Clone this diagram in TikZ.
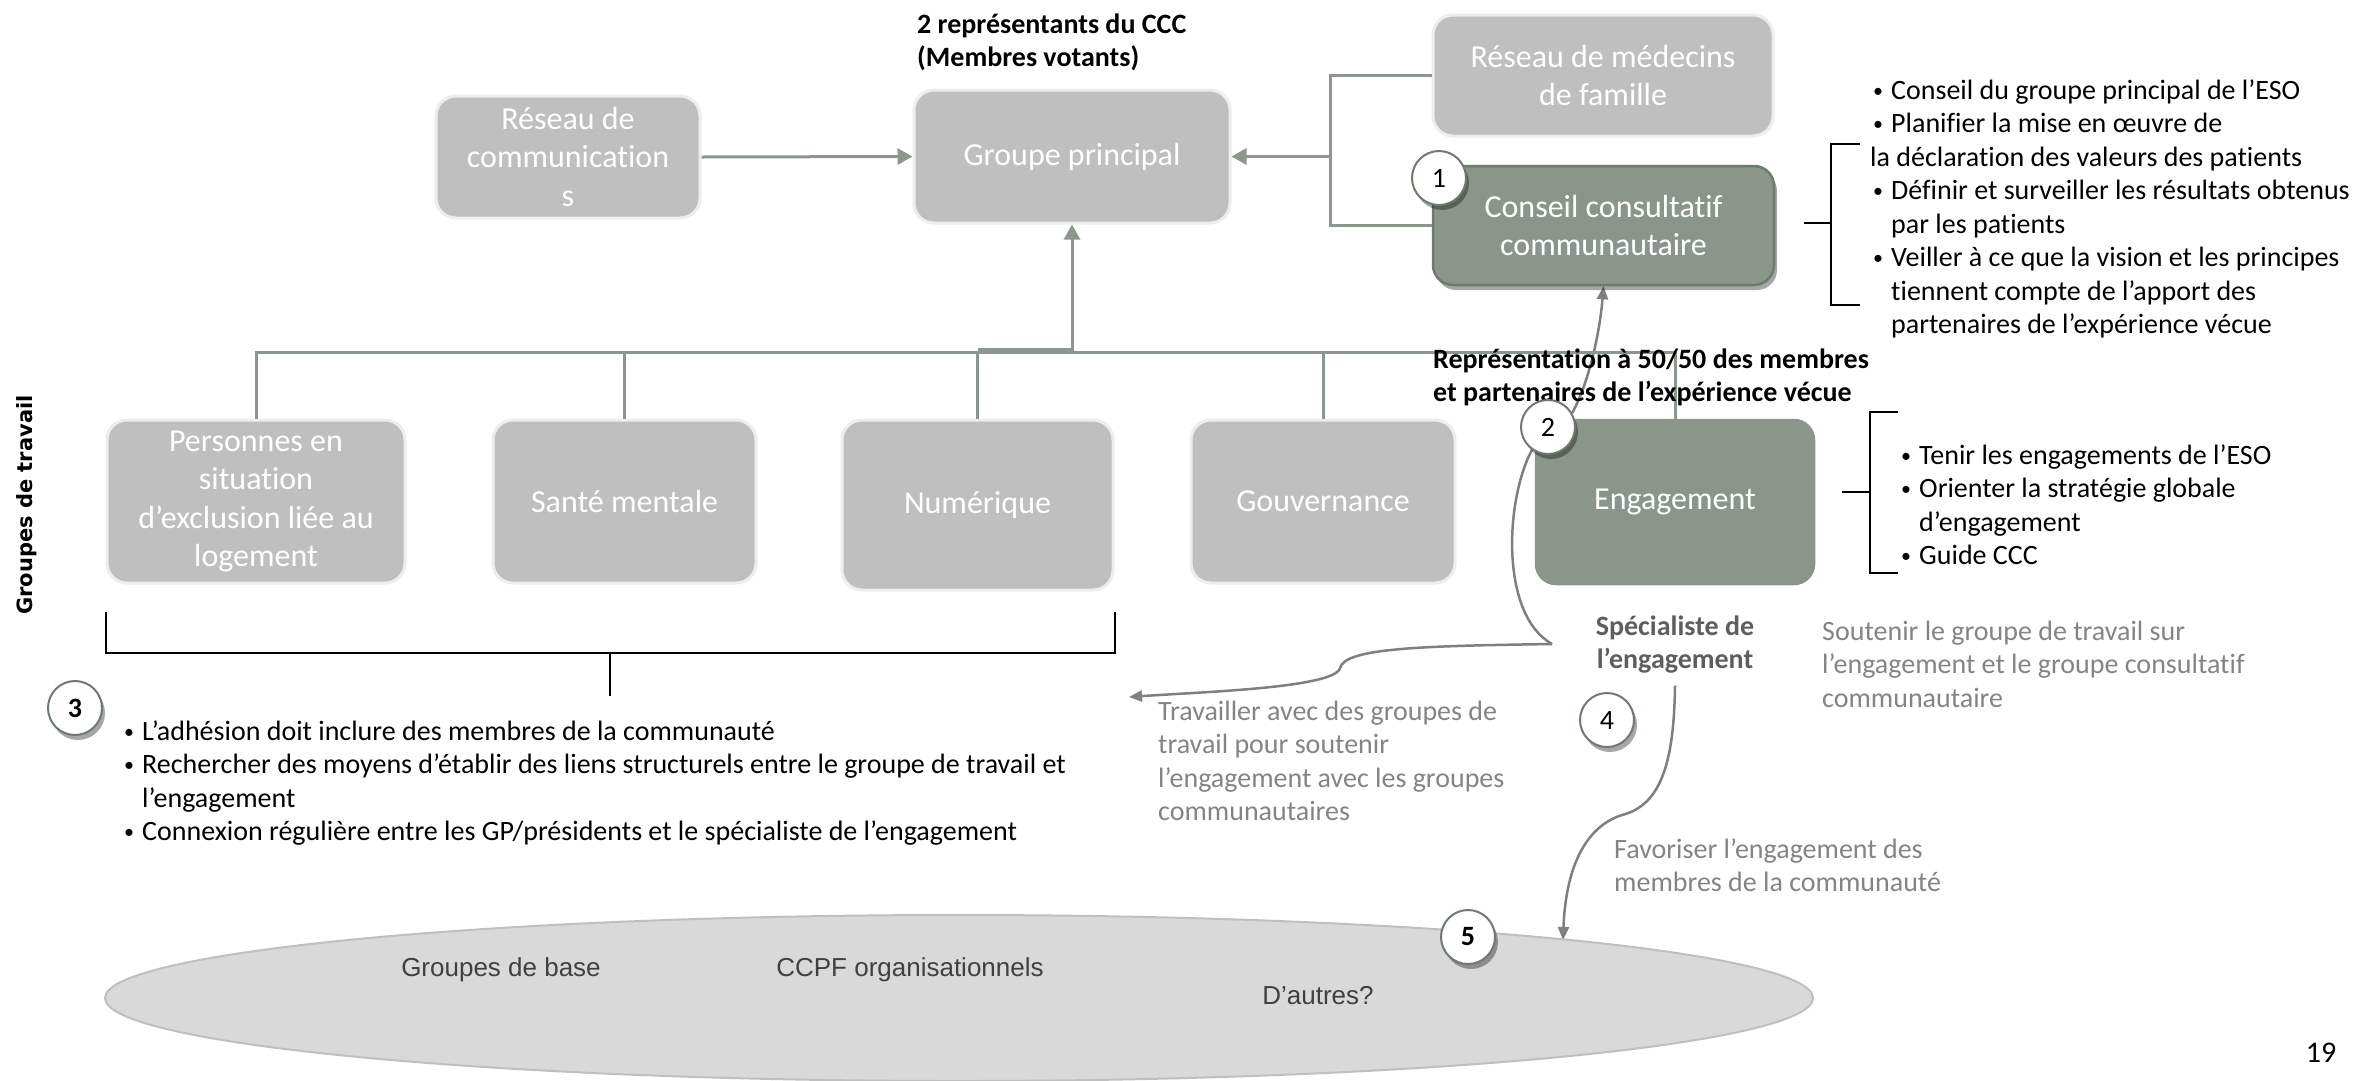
\documentclass[tikz,border=0pt]{standalone}
\usepackage{fontspec}
\setmainfont{Carlito}[Ligatures=NoCommon]
\newfontfamily\arialf{Liberation Sans}
\newfontfamily\dejav{DejaVu Sans}
\usetikzlibrary{shapes.geometric,arrows.meta,shadows,calc}
\pgfdeclarelayer{bg}
\pgfsetlayers{bg,main}
\definecolor{boxgray}{HTML}{BFBFBF}
\definecolor{boxedge}{HTML}{EDEDED}
\definecolor{sage}{HTML}{8B958B}
\definecolor{sagedark}{HTML}{6F7A6F}
\definecolor{connc}{HTML}{8C968C}
\definecolor{txtgray}{HTML}{848484}
\definecolor{specgray}{HTML}{5E5E5E}
\definecolor{curvegray}{HTML}{7F7F7F}
\definecolor{ellfill}{HTML}{D9D9D9}
\definecolor{elledge}{HTML}{BFBFBF}
\definecolor{elltext}{HTML}{404040}
\newcommand\fsB{\fontsize{32}{38.5}\selectfont}
\newcommand\fsL{\fontsize{28}{33.5}\selectfont}
\newcommand\bul{\makebox[21pt][l]{\hspace{3pt}\raisebox{2pt}{\fontsize{20}{20}\selectfont •}}}
\newcommand\ind{\hspace*{21pt}}
\tikzset{
  lbox/.style={rectangle, rounded corners=20pt, fill=boxgray, draw=boxedge, line width=3pt,
    text=white, align=center, font=\fsB, inner sep=2pt},
  gbox/.style={rectangle, rounded corners=20pt, fill=sage, draw=sagedark, line width=2.5pt,
    text=white, align=center, font=\fsB, inner sep=2pt},
  conn/.style={draw=connc, line width=3pt},
  arrA/.style={-{Triangle[length=15pt,width=16pt]}},
  arrB/.style={-{Triangle[length=13pt,width=11pt]}},
  gcurve/.style={draw=curvegray, line width=2.5pt},
  brk/.style={draw=black, line width=2pt},
  numc/.style={circle, fill=white, draw=sagedark, line width=2pt, minimum size=54pt, inner sep=0pt,
    font=\fsL, drop shadow={shadow xshift=3pt, shadow yshift=-5pt, opacity=0.35, fill=black}},
  txt/.style={anchor=north west, inner sep=0pt, align=left, font=\fsL},
}
\begin{document}
\begin{tikzpicture}[x=1pt,y=-1pt]
\useasboundingbox (0,0) rectangle (2358,1080);
\begin{pgfonlayer}{bg}
\fill[white] (0,0) rectangle (2358,1080);
\end{pgfonlayer}

% ellipse
\node[ellipse, fill=ellfill, draw=elledge, line width=2pt, minimum width=1708pt, minimum height=166pt, inner sep=0pt] (base) at (959,998) {};
\node[font=\arialf\fontsize{26}{31}\selectfont, text=elltext] (gb) at (501,970) {Groupes de base};
\node[font=\arialf\fontsize{26}{31}\selectfont, text=elltext] (ccpf) at (910,970) {CCPF organisationnels};
\node[font=\arialf\fontsize{26}{31}\selectfont, text=elltext] (autres) at (1318,996) {D’autres?};

% top boxes
\node[lbox, minimum width=264pt, minimum height=122pt] (rc) at (568,157) {Réseau de\\communication\\s};
\node[lbox, minimum width=316pt, minimum height=133pt] (gp) at (1072,156.5) {Groupe principal};
\node[lbox, minimum width=340pt, minimum height=121pt] (med) at (1603,75.5) {Réseau de médecins\\de famille};
\node[gbox, minimum width=341pt, minimum height=119pt, drop shadow={shadow xshift=3pt, shadow yshift=-5pt, opacity=0.35, fill=black}] (ccc) at (1603.5,225.5) {Conseil consultatif\\communautaire};

% working groups
\node[lbox, minimum width=298pt, minimum height=163pt] (p1) at (256,501.5) {Personnes en\\situation\\d’exclusion liée au\\logement};
\node[lbox, minimum width=263pt, minimum height=163pt] (sm) at (624.5,501.5) {Santé mentale};
\node[lbox, minimum width=271pt, minimum height=170pt] (num) at (977.5,505) {Numérique};
\node[lbox, minimum width=264pt, minimum height=163pt] (gv) at (1323,501.5) {Gouvernance};
\node[gbox, draw=sage, minimum width=278pt, minimum height=164pt] (eng) at (1675,502) {Engagement};

% connectors
\coordinate (jr) at (1330,156.5);
\coordinate (busy) at (0,352);
\draw[conn,arrA] (rc.east) -- (gp.west);
\draw[conn] (med.west) -| (jr);
\draw[conn] (ccc.west) -| (jr);
\draw[conn,arrA] (jr) -- (gp.east);
\draw[conn] (p1.north) -- (p1.north |- busy) -- (eng.north |- busy) -- (eng.north);
\draw[conn] (sm.north) -- (sm.north |- busy);
\draw[conn] (gv.north) -- (gv.north |- busy);
\draw[conn] (num.north) -- (num.north |- busy);
\draw[conn,arrA] (num.north |- 0,349) -| (gp.south);

% titles
\node[txt, font=\fsL\bfseries] (t1) at (917,9.5) {\strut 2 représentants du CCC\\(Membres votants)};
\node[txt, font=\fsL\bfseries] (t2) at (1433,344.5) {\strut Représentation à 50/50 des membres\\et partenaires de l’expérience vécue};

% lists
\node[txt] (l1) at (1870,75.5) {\strut\bul Conseil du groupe principal de l’ESO\\\bul Planifier la mise en œuvre de\\la déclaration des valeurs des patients\\\bul Définir et surveiller les résultats obtenus\\\ind par les patients\\\bul Veiller à ce que la vision et les principes\\\ind tiennent compte de l’apport des\\\ind partenaires de l’expérience vécue};
\draw[brk] (1860,144) -- (1831,144) -- (1831,305) -- (1860,305);
\draw[brk] (1804,223) -- (1831,223);

\node[txt] (l2) at (1898,440.5) {\strut\bul Tenir les engagements de l’ESO\\\bul Orienter la stratégie globale\\\ind d’engagement\\\bul Guide CCC};
\draw[brk] (1898,412) -- (1870,412) -- (1870,573) -- (1898,573);
\draw[brk] (1842,492) -- (1870,492);

\node[txt] (l3) at (121,716.5) {\strut\bul L’adhésion doit inclure des membres de la communauté\\\bul Rechercher des moyens d’établir des liens structurels entre le groupe de travail et\\\ind l’engagement\\\bul Connexion régulière entre les GP/présidents et le spécialiste de l’engagement};
\draw[brk] (p1.south west |- 0,612) -- (p1.south west |- 0,653) -- (num.south east |- 0,653) -- (num.south east |- 0,612);
\draw[brk] (610,653) -- (610,696);

% side texts
\node[font=\dejav\bfseries\fontsize{21}{25}\selectfont, rotate=90] (gdt) at (27,505) {Groupes de travail};
\node[txt, text=txtgray] (trav) at (1158,696.5) {\strut Travailler avec des groupes de\\travail pour soutenir\\l’engagement avec les groupes\\communautaires};
\node[txt, text=txtgray] (sout) at (1822,616.5) {\strut Soutenir le groupe de travail sur\\l’engagement et le groupe consultatif\\communautaire};
\node[txt, text=txtgray] (fav) at (1614,834.5) {\strut Favoriser l’engagement des\\membres de la communauté};
\node[font=\fsL\bfseries, text=specgray, align=center, anchor=north, inner sep=0pt] (spec) at (1675,611.5) {\strut Spécialiste de\\l’engagement};
\node[font=\fontsize{30}{36}\selectfont, anchor=base] (pg) at (2321,1062) {19};

% numbered circles
\node[numc] (c1) at (1439,178) {1};
\node[numc] (c2) at (1548,427) {2};
\node[numc, font=\fsL\bfseries] (c3) at (75,708) {3};
\node[numc] (c4) at (1607,720) {4};
\node[numc, font=\fsL\bfseries] (c5) at (1468,937) {5};

% gray curves
\coordinate (brc) at (1552,644);
\coordinate (wgt) at (1129,697);
\coordinate (ellt) at (1563,940);
\begin{pgfonlayer}{bg}
\draw[gcurve,arrB] (c2.30) .. controls (1590,380) and (1600,330) .. (ccc.south);
\draw[gcurve] (c2.235) .. controls (1505,500) and (1500,615) .. (brc);
\draw[gcurve,arrB] (brc) .. controls (1420,646) and (1345,648) .. (1340,668) .. controls (1335,688) and (1200,692) .. (wgt);
\draw[gcurve,arrB] ([yshift=-12pt]spec.south) .. controls (1674,760) and (1662,805) .. (1622,815) .. controls (1590,825) and (1566,860) .. (ellt);
\end{pgfonlayer}
\end{tikzpicture}
\end{document}
